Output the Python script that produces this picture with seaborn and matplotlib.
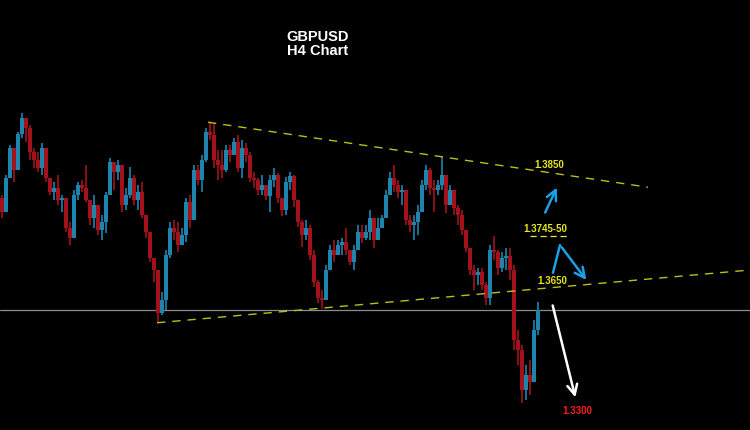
import numpy as np
import pandas as pd
import matplotlib
matplotlib.use("Agg")
import matplotlib.pyplot as plt
import seaborn as sns

# GBPUSD H4 candles (oldest first)
highs = [1.3810, 1.3846, 1.3900, 1.3887, 1.3923, 1.3958, 1.3941, 1.3936, 1.3895, 1.3887,
         1.3904, 1.3864, 1.3841, 1.3833, 1.3846, 1.3810, 1.3801, 1.3761, 1.3819, 1.3833,
         1.3837, 1.3864, 1.3792, 1.3810, 1.3779, 1.3774, 1.3815, 1.3877, 1.3869, 1.3873,
         1.3846, 1.3823, 1.3860, 1.3846, 1.3828, 1.3833, 1.3774, 1.3738, 1.3689, 1.3657,
         1.3635, 1.3711, 1.3761, 1.3765, 1.3761, 1.3751, 1.3805, 1.3810, 1.3864, 1.3864,
         1.3882, 1.3931, 1.3941, 1.3938, 1.3891, 1.3891, 1.3900, 1.3900, 1.3913, 1.3918,
         1.3909, 1.3904, 1.3887, 1.3851, 1.3841, 1.3846, 1.3823, 1.3846, 1.3859, 1.3850,
         1.3801, 1.3842, 1.3851, 1.3846, 1.3801, 1.3765, 1.3765, 1.3756, 1.3711, 1.3657,
         1.3639, 1.3684, 1.3720, 1.3729, 1.3729, 1.3733, 1.3751, 1.3711, 1.3720, 1.3756,
         1.3756, 1.3756, 1.3783, 1.3756, 1.3769, 1.3774, 1.3819, 1.3851, 1.3864, 1.3837,
         1.3828, 1.3810, 1.3774, 1.3774, 1.3792, 1.3837, 1.3864, 1.3859, 1.3837, 1.3837,
         1.3880, 1.3837, 1.3828, 1.3819, 1.3792, 1.3783, 1.3747, 1.3715, 1.3684, 1.3679,
         1.3679, 1.3653, 1.3720, 1.3736, 1.3711, 1.3707, 1.3715, 1.3715, 1.3684, 1.3567,
         1.3540, 1.3504, 1.3513, 1.3585, 1.3617]
lows = [1.3769, 1.3792, 1.3873, 1.3833, 1.3900, 1.3913, 1.3905, 1.3873, 1.3859, 1.3851,
        1.3846, 1.3833, 1.3810, 1.3801, 1.3792, 1.3779, 1.3743, 1.3720, 1.3733, 1.3801,
        1.3815, 1.3797, 1.3756, 1.3751, 1.3738, 1.3729, 1.3742, 1.3815, 1.3819, 1.3837,
        1.3779, 1.3783, 1.3805, 1.3792, 1.3783, 1.3769, 1.3733, 1.3689, 1.3653, 1.3580,
        1.3594, 1.3603, 1.3697, 1.3729, 1.3707, 1.3725, 1.3725, 1.3751, 1.3774, 1.3828,
        1.3815, 1.3869, 1.3909, 1.3859, 1.3837, 1.3841, 1.3851, 1.3869, 1.3882, 1.3851,
        1.3841, 1.3869, 1.3833, 1.3823, 1.3810, 1.3810, 1.3801, 1.3779, 1.3824, 1.3796,
        1.3772, 1.3774, 1.3819, 1.3788, 1.3752, 1.3716, 1.3729, 1.3693, 1.3644, 1.3615,
        1.3605, 1.3621, 1.3679, 1.3689, 1.3702, 1.3702, 1.3702, 1.3684, 1.3675, 1.3711,
        1.3723, 1.3729, 1.3729, 1.3715, 1.3738, 1.3751, 1.3774, 1.3810, 1.3815, 1.3805,
        1.3792, 1.3756, 1.3743, 1.3729, 1.3738, 1.3783, 1.3819, 1.3810, 1.3779, 1.3810,
        1.3819, 1.3778, 1.3792, 1.3774, 1.3756, 1.3738, 1.3707, 1.3666, 1.3639, 1.3648,
        1.3639, 1.3612, 1.3612, 1.3693, 1.3666, 1.3671, 1.3675, 1.3657, 1.3531, 1.3504,
        1.3436, 1.3441, 1.3450, 1.3481, 1.3558]
closes = [1.3779, 1.3841, 1.3895, 1.3855, 1.3920, 1.3949, 1.3931, 1.3887, 1.3873, 1.3859,
          1.3895, 1.3841, 1.3815, 1.3823, 1.3801, 1.3805, 1.3751, 1.3733, 1.3810, 1.3828,
          1.3823, 1.3801, 1.3769, 1.3792, 1.3747, 1.3761, 1.3810, 1.3869, 1.3851, 1.3864,
          1.3792, 1.3810, 1.3841, 1.3801, 1.3815, 1.3774, 1.3743, 1.3697, 1.3675, 1.3598,
          1.3621, 1.3702, 1.3751, 1.3743, 1.3720, 1.3738, 1.3797, 1.3765, 1.3855, 1.3837,
          1.3873, 1.3923, 1.3918, 1.3873, 1.3864, 1.3855, 1.3891, 1.3882, 1.3905, 1.3859,
          1.3895, 1.3882, 1.3841, 1.3837, 1.3819, 1.3828, 1.3808, 1.3837, 1.3846, 1.3805,
          1.3783, 1.3833, 1.3844, 1.3801, 1.3761, 1.3738, 1.3751, 1.3702, 1.3653, 1.3625,
          1.3621, 1.3675, 1.3711, 1.3702, 1.3720, 1.3725, 1.3711, 1.3689, 1.3711, 1.3743,
          1.3733, 1.3743, 1.3769, 1.3729, 1.3751, 1.3769, 1.3810, 1.3841, 1.3828, 1.3815,
          1.3819, 1.3765, 1.3756, 1.3761, 1.3779, 1.3828, 1.3855, 1.3823, 1.3819, 1.3828,
          1.3846, 1.3792, 1.3819, 1.3787, 1.3774, 1.3747, 1.3715, 1.3675, 1.3666, 1.3671,
          1.3648, 1.3625, 1.3711, 1.3707, 1.3679, 1.3697, 1.3700, 1.3675, 1.3549, 1.3531,
          1.3459, 1.3486, 1.3473, 1.3567, 1.3603]
first_open = 1.3805

# drawn lines / levels
upper_trend = ([51.5, 161.5], [1.3941, 1.3824])
lower_trend = ([38.75, 187.0], [1.3580, 1.3675])
current_price = 1.3603

UP = "#1d84ad"
DOWN = "#a3111a"
YELLOW = "#e6e61e"

df = pd.DataFrame({"high": highs, "low": lows, "close": closes})
df["open"] = [first_open] + closes[:-1]
df["bar"] = np.arange(len(df))
df["color"] = np.where(df["close"] >= df["open"], UP, DOWN)

sns.set_theme(style="dark", rc={"axes.facecolor": "black", "figure.facecolor": "black"})
plt.rcParams["font.family"] = ["Liberation Sans", "DejaVu Sans"]

fig = plt.figure(figsize=(7.5, 4.3), dpi=100)
ax = fig.add_axes([0, 0, 1, 1])
ax.set_facecolor("black")

# horizontal current price line
ax.axhline(current_price, color="#8c8c8c", lw=0.9, zorder=1)

# candles
ax.vlines(df["bar"], df["low"], df["high"], colors=df["color"], lw=1.2, zorder=2)
body_lo = np.minimum(df["open"], df["close"])
body_h = np.maximum(np.abs(df["close"] - df["open"]), 0.00008)
ax.bar(df["bar"], body_h, bottom=body_lo, width=0.8, color=df["color"], lw=0, zorder=3)

# trend lines
for xs, ys in (upper_trend, lower_trend):
    sns.lineplot(x=xs, y=ys, ax=ax, color="#bebe18", lw=1.0, dashes=False,
                 linestyle=(0, (6, 5)), zorder=4)

# level labels
lab = dict(color=YELLOW, fontsize=7, fontweight="bold", ha="center", va="center", zorder=6)
ax.text(136.75, 1.3864, "1.3850", **lab)
ax.text(135.75, 1.3749, "1.3745-50", **lab)
ax.plot([132.0, 141.8], [1.3736, 1.3736], color=YELLOW, lw=0.9, linestyle=(0, (5, 3)), zorder=6)
ax.text(137.5, 1.3655, "1.3650", **lab)
ax.text(143.75, 1.3421, "1.3300", color="#ff1a1a", fontsize=7, fontweight="bold",
        ha="center", va="center", zorder=6)

# arrows
arrow_blue = dict(arrowstyle="->,head_length=0.6,head_width=0.3", color="#1aa0e6", lw=1.8)
ax.annotate("", xy=(139.0, 1.3828), xytext=(135.5, 1.3774), arrowprops=arrow_blue, zorder=7)
ax.plot([137.75, 139.5], [1.3670, 1.3720], color="#1aa0e6", lw=1.8, zorder=7)
ax.annotate("", xy=(146.5, 1.3653), xytext=(139.5, 1.3720), arrowprops=arrow_blue, zorder=7)
ax.annotate("", xy=(143.5, 1.3441), xytext=(137.5, 1.3616),
            arrowprops=dict(arrowstyle="->,head_length=0.6,head_width=0.3", color="white", lw=1.8),
            zorder=7)

# title
ax.text(79, 1.4094, "GBPUSD", color="white", fontsize=10.5, fontweight="bold", ha="center", va="center")
ax.text(79, 1.4070, "H4 Chart", color="white", fontsize=10.5, fontweight="bold", ha="center", va="center")

ax.set_xlim(-0.5, 187.0)
ax.set_ylim(1.4161 - 0.00018 * 430, 1.4161)
ax.set_xticks([])
ax.set_yticks([])
ax.set_xlabel("")
ax.set_ylabel("")
for s in ax.spines.values():
    s.set_visible(False)
if ax.get_legend():
    ax.get_legend().remove()

fig.savefig("out.png", dpi=100, facecolor="black")
